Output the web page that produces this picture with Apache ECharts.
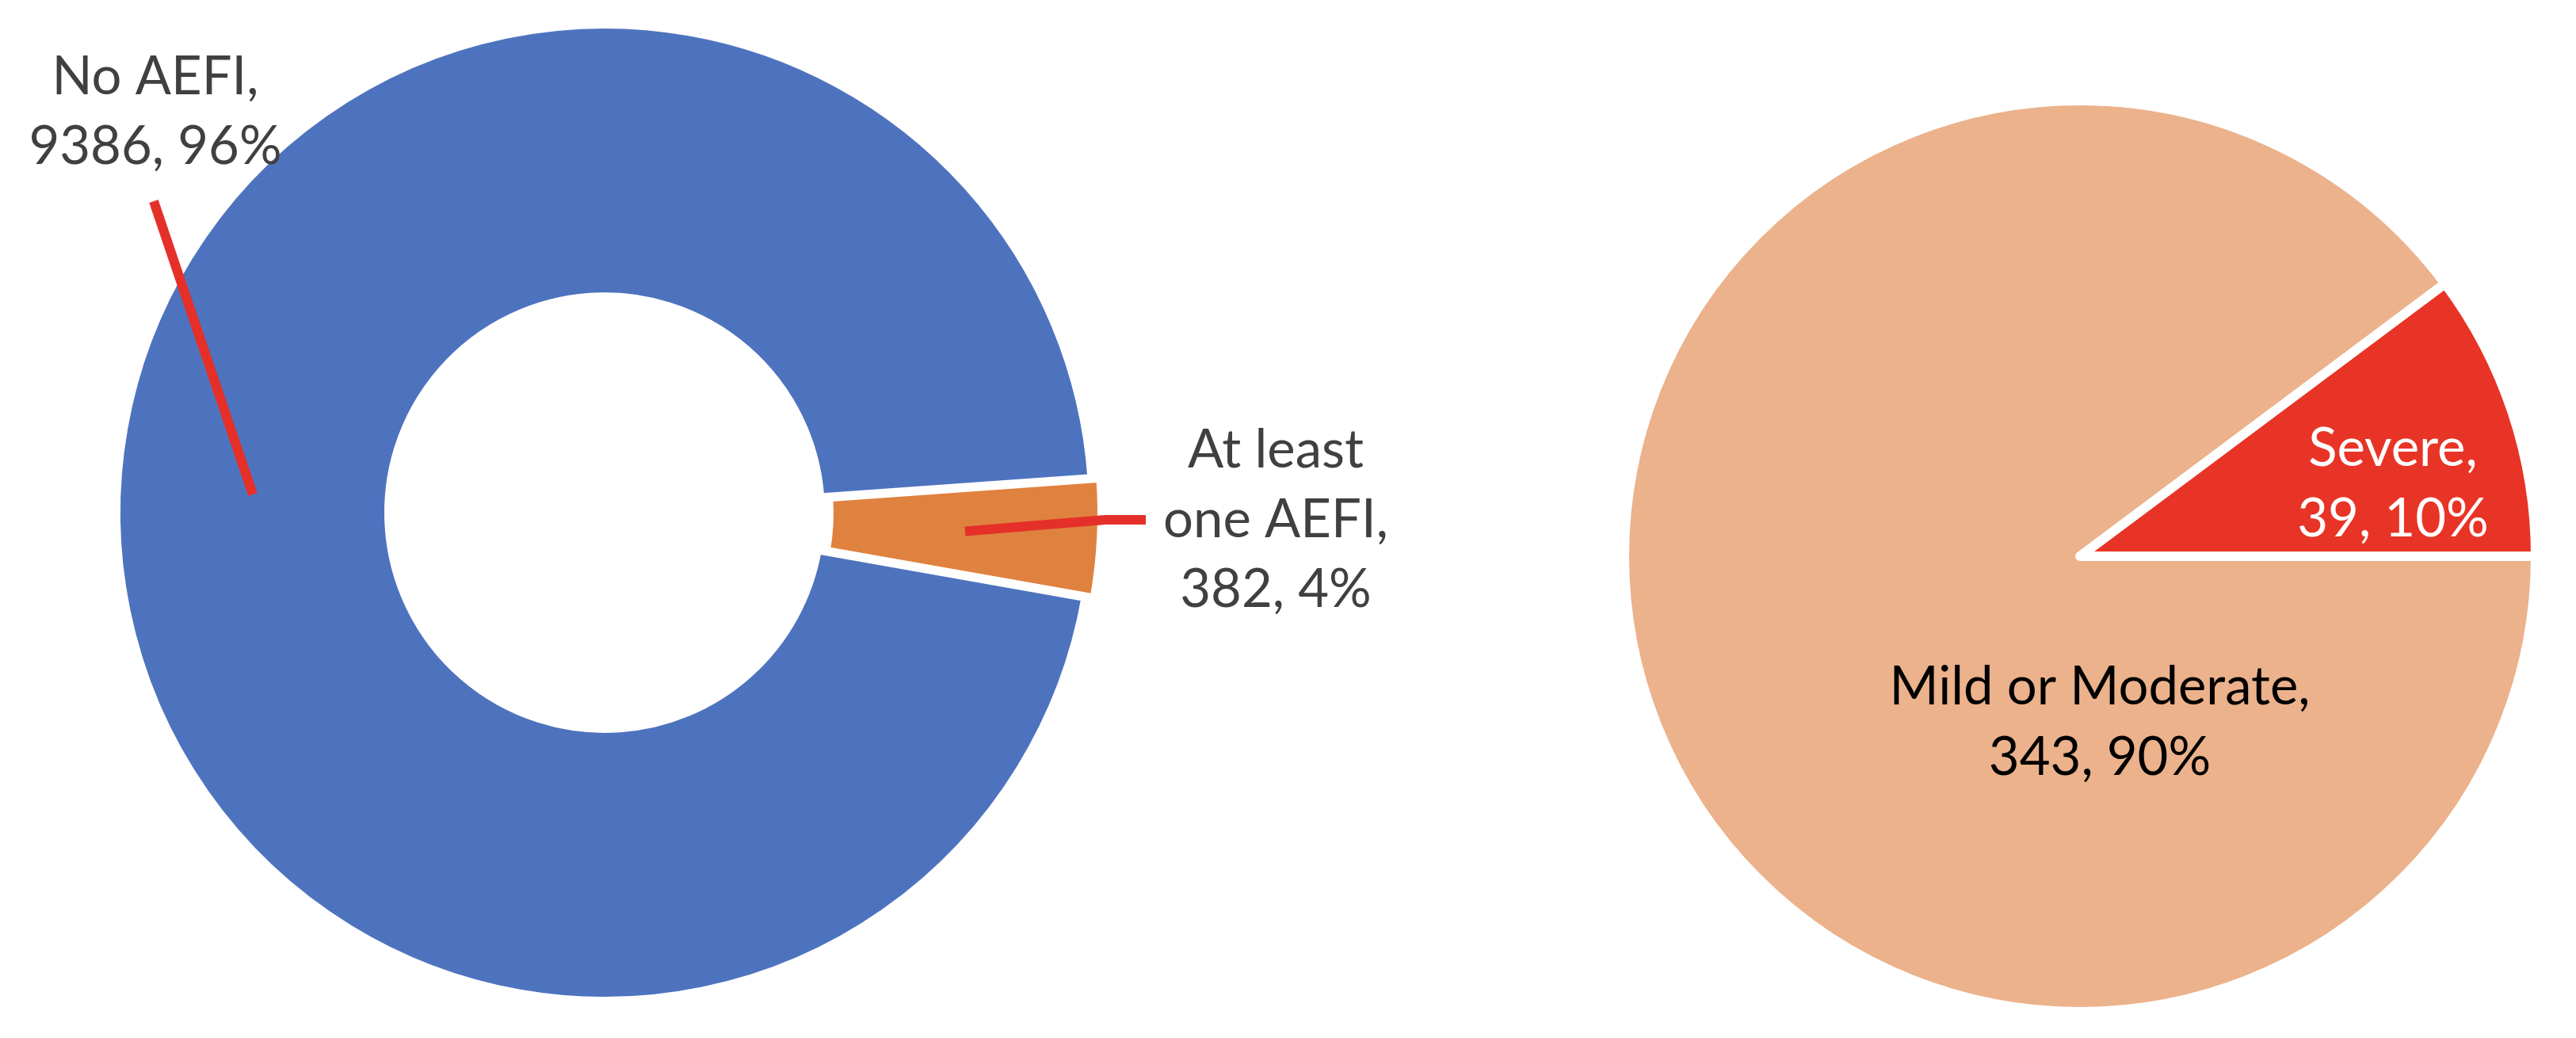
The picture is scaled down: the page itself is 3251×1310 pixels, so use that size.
<!DOCTYPE html>
<html>
<head>
<meta charset="utf-8">
<script src="https://cdn.jsdelivr.net/npm/echarts@6/dist/echarts.min.js"></script>
<style>
    html, body { margin: 0; padding: 0; background: #fff; }
    #chart { width: 3251px; height: 1310px; }
</style>
</head>
<body>
<div id="chart"></div>
<script>
    // left: any AEFI after vaccination
    const aefiNames = ['No AEFI', 'At least\none AEFI'];
    const aefiValues = [9386, 382];
    const aefiColors = ['#4E73BE', '#E0823F'];

    // right: severity among those with AEFI
    const severityNames = ['Severe', 'Mild or Moderate'];
    const severityValues = [39, 343];
    const severityColors = ['#E83426', '#EBB28B'];
    const severityTextColors = ['#ffffff', '#000000'];

    const donutCenter = [763, 647];
    const donutRadius = [273, 616];
    const donutStart = 350;
    const explode = 11;

    const pieCenter = [2625, 702];
    const pieRadius = 575;

    const leaderRed = '#E5302A';
    const font = 'Lato, "Open Sans", sans-serif';

    function labelText(p) {
        return p.name + ',\n' + p.value + ', ' + Math.round(p.percent) + '%';
    }

    // mid angle (radians) of a donut slice, same way the pie lays it out
    function midAngle(i) {
        let total = 0, before = 0;
        aefiValues.forEach((v, k) => {
            total += v;
            if (k < i) before += v;
        });
        return (donutStart - 360 * (before + aefiValues[i] / 2) / total) * Math.PI / 180;
    }

    // Excel draws the leader line into the middle of the ring
    function ringMid(i, offset) {
        const ang = midAngle(i);
        const r = (donutRadius[0] + donutRadius[1]) / 2 + offset;
        return [donutCenter[0] + r * Math.cos(ang), donutCenter[1] - r * Math.sin(ang)];
    }

    // the small slice is pulled out a little
    const outAng = midAngle(1);
    const explodedCenter = [
        donutCenter[0] + explode * Math.cos(outAng),
        donutCenter[1] - explode * Math.sin(outAng)
    ];

    const hidden = {
        itemStyle: {color: 'rgba(0,0,0,0)', borderWidth: 0},
        label: {show: false},
        labelLine: {show: false}
    };

    function donutData(shown) {
        return aefiNames.map((n, i) => {
            const item = {name: n, value: aefiValues[i]};
            if (i === shown) {
                item.itemStyle = {color: aefiColors[i]};
            } else {
                Object.assign(item, hidden);
            }
            return item;
        });
    }

    const donutBase = {
        type: 'pie',
        radius: donutRadius,
        startAngle: donutStart,
        clockwise: true,
        avoidLabelOverlap: false,
        silent: true,
        itemStyle: {borderColor: '#fff', borderWidth: 10},
        label: {
            show: true,
            position: 'outside',
            formatter: labelText,
            color: '#404040',
            fontFamily: font,
            fontSize: 67,
            lineHeight: 88
        },
        labelLine: {show: false}
    };

    let myChart = echarts.init(document.getElementById('chart'));
    let option = {
        backgroundColor: '#fff',
        animation: false,
        series: [
            Object.assign({}, donutBase, {
                center: donutCenter,
                labelLayout: () => ({x: 196, y: 141, align: 'center', verticalAlign: 'middle'}),
                data: donutData(0)
            }),
            Object.assign({}, donutBase, {
                center: explodedCenter,
                labelLayout: () => ({x: 1610, y: 656, align: 'center', verticalAlign: 'middle'}),
                data: donutData(1)
            }),
            {
                type: 'pie',
                center: pieCenter,
                radius: pieRadius,
                startAngle: 360 * severityValues[0] / (severityValues[0] + severityValues[1]),
                clockwise: true,
                silent: true,
                itemStyle: {borderColor: '#fff', borderWidth: 12, borderJoin: 'round'},
                label: {
                    show: true,
                    position: 'inside',
                    formatter: labelText,
                    fontFamily: font,
                    fontSize: 67,
                    lineHeight: 89
                },
                labelLine: {show: false},
                labelLayout: function (params) {
                    if (params.dataIndex === 0) {
                        return {x: 3020, y: 611, align: 'center', verticalAlign: 'middle'};
                    }
                    return {x: 2650, y: 912, align: 'center', verticalAlign: 'middle'};
                },
                data: severityNames.map((n, i) => ({
                    name: n,
                    value: severityValues[i],
                    itemStyle: {color: severityColors[i]},
                    label: {color: severityTextColors[i]}
                }))
            }
        ],
        // leader lines sit on top of the ring, as in Excel
        graphic: [
            {
                type: 'polyline',
                z: 100,
                shape: {points: [[194, 254], ringMid(0, 0)]},
                style: {stroke: leaderRed, lineWidth: 12, fill: null}
            },
            {
                type: 'polyline',
                z: 100,
                shape: {points: [ringMid(1, explode), [1395, 656], [1446, 656]]},
                style: {stroke: leaderRed, lineWidth: 12, fill: null}
            }
        ]
    };
    myChart.setOption(option);
</script>
</body>
</html>
